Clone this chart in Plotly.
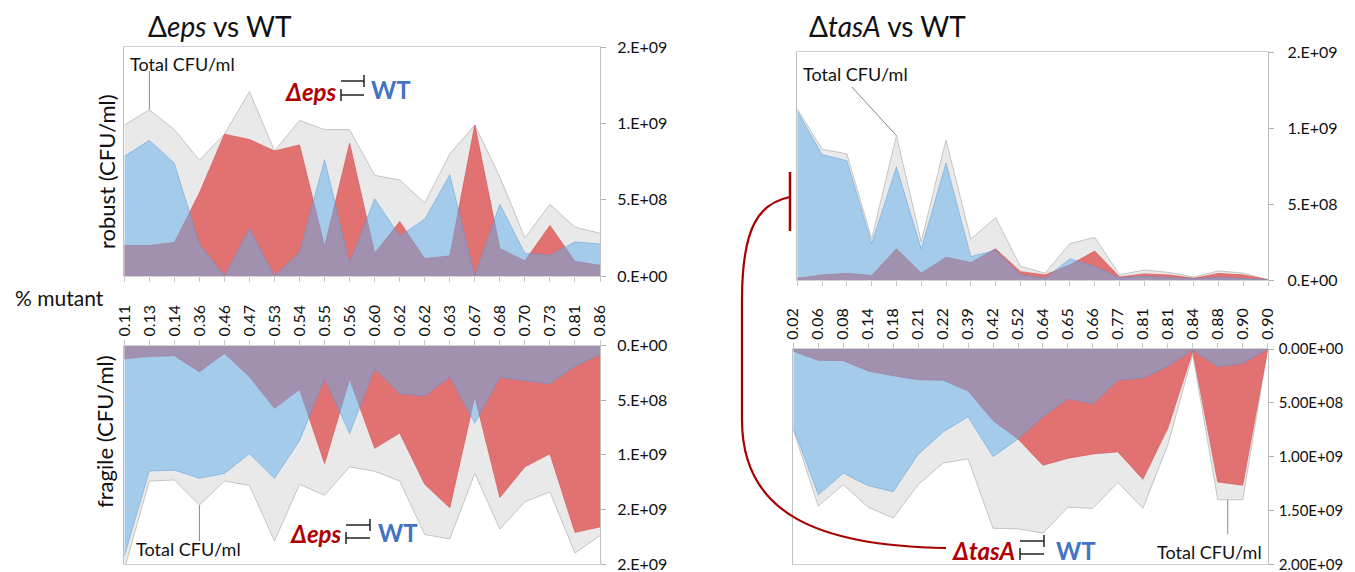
import plotly.graph_objects as go

# page is rendered with the browser's default 8px body margin -> offset the canvas
OFF = 8
W, H = 1355 - OFF, 572 - OFF

# ---------------- data (CFU/ml, in units of 1e9) ----------------
cats_eps = ["0.11", "0.13", "0.14", "0.36", "0.46", "0.47", "0.53", "0.54", "0.55", "0.56",
            "0.60", "0.62", "0.62", "0.63", "0.67", "0.68", "0.70", "0.73", "0.81", "0.86"]
eps_robust_total = [0.99, 1.09, 0.96, 0.76, 0.93, 1.21, 0.82, 1.02, 0.96, 0.96,
                    0.66, 0.63, 0.48, 0.80, 0.99, 0.65, 0.25, 0.47, 0.32, 0.28]
eps_robust_wt = [0.785, 0.89, 0.74, 0.21, 0.0, 0.31, 0.0, 0.155, 0.763, 0.085,
                 0.507, 0.263, 0.373, 0.664, 0.0, 0.47, 0.15, 0.136, 0.224, 0.21]
eps_robust_mut = [0.20, 0.20, 0.22, 0.545, 0.93, 0.895, 0.82, 0.86, 0.193, 0.871,
                  0.149, 0.357, 0.114, 0.132, 0.99, 0.18, 0.099, 0.331, 0.096, 0.07]

eps_fragile_total = [2.05, 1.24, 1.23, 1.46, 1.24, 1.28, 1.79, 1.27, 1.37, 1.11,
                     1.15, 1.24, 1.73, 1.77, 1.17, 1.68, 1.43, 1.34, 1.90, 1.74]
eps_fragile_wt = [1.93, 1.148, 1.14, 1.215, 1.17, 0.99, 1.215, 0.87, 0.30, 0.805,
                  0.21, 0.44, 0.46, 0.285, 0.71, 0.29, 0.32, 0.35, 0.19, 0.08]
eps_fragile_mut = [0.12, 0.098, 0.092, 0.24, 0.07, 0.285, 0.574, 0.40, 1.08, 0.305,
                   0.94, 0.80, 1.27, 1.485, 0.465, 1.39, 1.11, 0.99, 1.71, 1.66]

cats_tasA = ["0.02", "0.06", "0.08", "0.14", "0.18", "0.21", "0.22", "0.39", "0.42", "0.52",
             "0.64", "0.65", "0.66", "0.77", "0.81", "0.81", "0.84", "0.88", "0.90", "0.90"]
tasA_robust_total = [1.125, 0.86, 0.83, 0.27, 0.95, 0.25, 0.92, 0.27, 0.41, 0.09,
                     0.045, 0.24, 0.28, 0.035, 0.065, 0.05, 0.02, 0.06, 0.045, 0.0]
tasA_robust_wt = [1.11, 0.825, 0.785, 0.24, 0.745, 0.205, 0.77, 0.155, 0.195, 0.035,
                  0.012, 0.14, 0.09, 0.015, 0.025, 0.017, 0.009, 0.018, 0.012, 0.001]
tasA_robust_mut = [0.012, 0.033, 0.044, 0.029, 0.205, 0.045, 0.15, 0.115, 0.205, 0.055,
                   0.033, 0.10, 0.19, 0.02, 0.04, 0.033, 0.011, 0.043, 0.033, 0.002]

tasA_fragile_total = [0.75, 1.46, 1.26, 1.47, 1.57, 1.26, 1.06, 1.02, 1.665, 1.67,
                      1.71, 1.47, 1.48, 1.24, 1.48, 0.89, 0.05, 1.40, 1.40, 0.0]
tasA_fragile_wt = [0.73, 1.355, 1.155, 1.27, 1.325, 0.98, 0.77, 0.63, 1.0, 0.835,
                   0.63, 0.46, 0.51, 0.29, 0.27, 0.16, 0.01, 0.165, 0.135, 0.0]
tasA_fragile_mut = [0.02, 0.105, 0.108, 0.205, 0.248, 0.285, 0.29, 0.39, 0.665, 0.835,
                    1.08, 1.015, 0.975, 0.955, 1.21, 0.735, 0.02, 1.235, 1.265, 0.0]

ticks_top = [0, 0.5, 1.0, 1.5]
ticks_bot = [0, 0.5, 1.0, 1.5, 2.0]
ticktext_top = ["0.E+00", "5.E+08", "1.E+09", "2.E+09"]
ticktext_bot_eps = ["0.E+00", "5.E+08", "1.E+09", "2.E+09", "2.E+09"]
ticktext_bot_tasA = ["0.00E+00", "5.00E+08", "1.00E+09", "1.50E+09", "2.00E+09"]

# ---------------- helpers (screen pixel -> paper fraction) ----------------
def X(px):
    return (px - OFF) / W

def Y(py):
    return 1 - (py - OFF) / H

FONT = "Lato"
GRAY_FILL = "#e9e9e9"
GRAY_LINE = "#c4c4c4"
RED_FILL = "rgb(226,114,114)"
RED_LINE = "rgb(214,98,98)"
BLUE_FILL = "rgba(97,173,235,0.5)"
BLUE_LINE = "rgba(80,150,215,0.55)"
DARKRED = "#b00000"
BLUEW = "#4472c4"

fig = go.Figure()

panels = [
    ("x", "y", eps_robust_total, eps_robust_wt, eps_robust_mut, cats_eps),
    ("x2", "y2", eps_fragile_total, eps_fragile_wt, eps_fragile_mut, cats_eps),
    ("x3", "y3", tasA_robust_total, tasA_robust_wt, tasA_robust_mut, cats_tasA),
    ("x4", "y4", tasA_fragile_total, tasA_fragile_wt, tasA_fragile_mut, cats_tasA),
]

for xa, ya, tot, wt, mut, cats in panels:
    idx = list(range(len(cats)))
    fig.add_trace(go.Scatter(x=idx, y=tot, mode="lines", fill="tozeroy",
                             fillcolor=GRAY_FILL, line=dict(color=GRAY_LINE, width=1),
                             xaxis=xa, yaxis=ya, hoverinfo="skip"))
    fig.add_trace(go.Scatter(x=idx, y=mut, mode="lines", fill="tozeroy",
                             fillcolor=RED_FILL, line=dict(color=RED_LINE, width=0.8),
                             xaxis=xa, yaxis=ya, hoverinfo="skip"))
    fig.add_trace(go.Scatter(x=idx, y=wt, mode="lines", fill="tozeroy",
                             fillcolor=BLUE_FILL, line=dict(color=BLUE_LINE, width=0.8),
                             xaxis=xa, yaxis=ya, hoverinfo="skip"))

def xaxis_cfg(x0, x1, anchor, cats, top_labels):
    d = dict(domain=[X(x0), X(x1)], range=[0, len(cats) - 1], anchor=anchor,
             showgrid=False, zeroline=False, showline=True, linecolor="#d2d2d2",
             linewidth=1, mirror=True, ticks="outside", ticklen=5, tickcolor="#c8c8c8",
             tickvals=list(range(len(cats))), fixedrange=True, automargin=False)
    if top_labels:
        d.update(side="top", showticklabels=True, ticktext=cats, tickangle=-90,
                 tickfont=dict(family=FONT, size=16, color="#111"))
    else:
        d.update(side="bottom", showticklabels=False)
    return d

def yaxis_cfg(y_top, y_bot, anchor, rng, tv, tt, standoff, fsize=16):
    return dict(domain=[Y(y_bot), Y(y_top)], range=rng, anchor=anchor, side="right",
                showgrid=False, zeroline=False, showline=True, linecolor="#c0c0c0",
                linewidth=1, mirror=True, ticks="outside", ticklen=5, tickcolor="#b0b0b0",
                tickvals=tv, ticktext=tt, ticklabelstandoff=standoff, automargin=False,
                ticklabeloverflow="allow",
                tickfont=dict(family=FONT, size=fsize, color="#111"), fixedrange=True)

fig.update_layout(
    width=W, height=H, autosize=False, margin=dict(l=0, r=0, t=0, b=0, pad=0),
    paper_bgcolor="white", plot_bgcolor="white", showlegend=False,
    xaxis=xaxis_cfg(124.3, 600, "y", cats_eps, False),
    yaxis=yaxis_cfg(47.3, 276, "x", [0, 1.5], ticks_top, ticktext_top, 8),
    xaxis2=xaxis_cfg(124.3, 600, "y2", cats_eps, True),
    yaxis2=yaxis_cfg(345.7, 564, "x2", [2.0, 0], ticks_bot, ticktext_bot_eps, 8),
    xaxis3=xaxis_cfg(797.3, 1268.3, "y3", cats_tasA, False),
    yaxis3=yaxis_cfg(52, 280, "x3", [0, 1.5], ticks_top, ticktext_top, 10),
    xaxis4=xaxis_cfg(793.3, 1267.7, "y4", cats_tasA, True),
    yaxis4=yaxis_cfg(349, 564.3, "x4", [2.0, 0], ticks_bot, ticktext_bot_tasA, 2, 15),
)

ann = []

def text(px, py, s, size, color="#111", xanchor="left", angle=0):
    ann.append(dict(x=X(px), y=Y(py), xref="paper", yref="paper", text=s, showarrow=False,
                    xanchor=xanchor, yanchor="middle", textangle=angle,
                    font=dict(family=FONT, size=size, color=color)))

text(146, 26, "Δ<i>eps</i> vs WT", 28)
text(807, 26, "Δ<i>tasA</i> vs WT", 28)
text(106, 172, "robust (CFU/ml)", 22, xanchor="center", angle=-90)
text(104, 432, "fragile (CFU/ml)", 22, xanchor="center", angle=-90)
text(13, 297, "% mutant", 21)
text(128, 64, "Total CFU/ml", 18)
text(801, 74, "Total CFU/ml", 18)
text(134, 549, "Total CFU/ml", 18)
text(1264, 552, "Total CFU/ml", 18, xanchor="right")
text(283, 91, "<b><i>Δeps</i></b>", 24, color=DARKRED)
text(369, 90, "<b>WT</b>", 24, color=BLUEW)
text(288, 533, "<b><i>Δeps</i></b>", 24, color=DARKRED)
text(376, 532, "<b>WT</b>", 24, color=BLUEW)
text(950, 550, "<b><i>ΔtasA</i></b>", 24, color=DARKRED)
text(1054, 550, "<b>WT</b>", 24, color=BLUEW)
fig.update_layout(annotations=ann)

shapes = []

def pline(x0, y0, x1, y1, color="#222", width=1.5):
    shapes.append(dict(type="line", xref="paper", yref="paper", x0=X(x0), y0=Y(y0),
                       x1=X(x1), y1=Y(y1), line=dict(color=color, width=width)))

def inhibit(xl, xr, ytop, ybot, bar):
    pline(xl, ytop, xr, ytop)
    pline(xr, ytop - bar, xr, ytop + bar)
    pline(xl, ybot, xr, ybot)
    pline(xl, ybot - bar, xl, ybot + bar)

inhibit(341, 364, 81, 95, 6)
inhibit(346, 370, 525, 538, 6)
inhibit(1020, 1044, 541, 554, 6)

def callout(xref, yref, x0, y0, x1, y1):
    shapes.append(dict(type="line", xref=xref, yref=yref, x0=x0, y0=y0, x1=x1, y1=y1,
                       line=dict(color="#8a8a8a", width=1)))

callout("x", "y", 1, eps_robust_total[1], 1, 1.345)
callout("x2", "y2", 3, eps_fragile_total[3], 3, 1.79)
callout("x3", "y3", 4, tasA_robust_total[4], 2.2, 1.27)
callout("x4", "y4", 17.4, tasA_fragile_total[17], 17.4, 1.72)

pline(790, 172, 790, 231, color="#a80000", width=2.5)
path = (f"M {X(790)},{Y(197)} C {X(760)},{Y(203)} {X(742)},{Y(225)} {X(742)},{Y(300)} "
        f"L {X(742)},{Y(420)} C {X(742)},{Y(515)} {X(820)},{Y(546)} {X(946)},{Y(548)}")
shapes.append(dict(type="path", xref="paper", yref="paper", path=path,
                   line=dict(color="#a80000", width=2.2)))

fig.update_layout(shapes=shapes)

fig.write_html("out.html")
